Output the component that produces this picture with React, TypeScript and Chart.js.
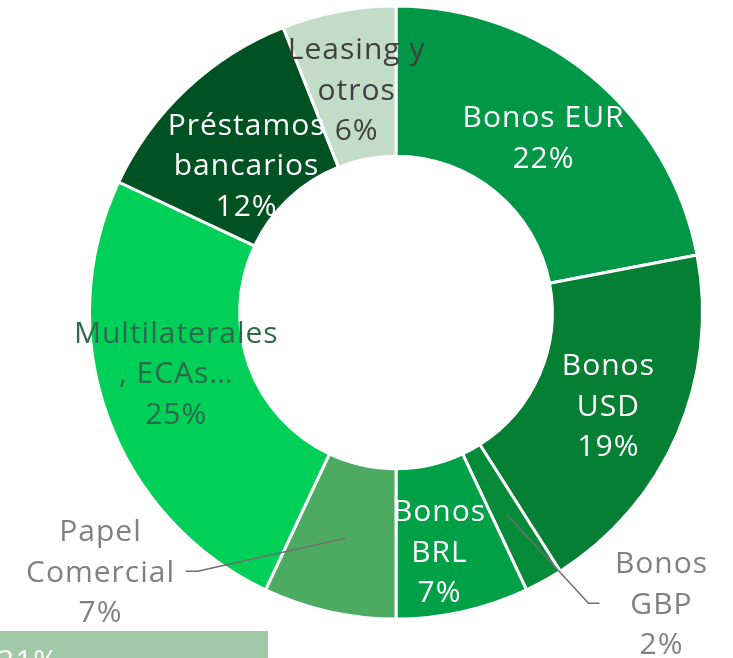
import React, { useEffect, useRef } from "react";
import { Chart, registerables } from "chart.js";

Chart.register(...registerables);

const categories = ["Bonos EUR", "Bonos USD", "Bonos GBP", "Bonos BRL", "Papel Comercial", "Multilaterales, ECAs…", "Préstamos bancarios", "Leasing y otros"];
const values = [22, 19, 2, 7, 7, 25, 12, 6];
const labelLines = [
  ["Bonos EUR", "22%"],
  ["Bonos", "USD", "19%"],
  ["Bonos", "GBP", "2%"],
  ["Bonos", "BRL", "7%"],
  ["Papel", "Comercial", "7%"],
  ["Multilaterales", ", ECAs…", "25%"],
  ["Préstamos", "bancarios", "12%"],
  ["Leasing y", "otros", "6%"],
];
const colors = ["#009846", "#047f33", "#058a38", "#00a046", "#4cab60", "#00cf58", "#005222", "#c3dcc8"];
const textColors = ["#ffffff", "#ffffff", "#808080", "#ffffff", "#808080", "#2d6a4c", "#ffffff", "#404040"];
// label offset from slice centroid
const labelOffsets = [[0, 5], [0, 3], [154, 90], [-7, 15], [-245, 35], [-2, -16], [9, 23], [4, 6]];
// leader lines: [elbow dx from label center, end dx from label center] or null
const leaders: (number[] | null)[] = [null, null, [-73, -62], null, [97, 85], null, null, null];

const extraBarLabel = "21%";

const FONT = "30px 'Open Sans'";
const LINE_H = 40.5;

const labelPlugin = {
  id: "sliceLabels",
  afterDatasetsDraw(chart: any) {
    const ctx = chart.ctx;
    const meta = chart.getDatasetMeta(0);
    ctx.save();
    ctx.font = FONT;
    try { (ctx as any).letterSpacing = "1px"; } catch (e) {}
    ctx.textAlign = "center";
    ctx.textBaseline = "middle";
    meta.data.forEach((arc: any, i: number) => {
      const p = arc.getProps(["x", "y", "startAngle", "endAngle", "innerRadius", "outerRadius"], true);
      const mid = (p.startAngle + p.endAngle) / 2;
      const r = (p.innerRadius + p.outerRadius) / 2;
      const cx = p.x + Math.cos(mid) * r;
      const cy = p.y + Math.sin(mid) * r;
      const lx = cx + labelOffsets[i][0];
      const ly = cy + labelOffsets[i][1];
      const lines = labelLines[i];
      if (leaders[i]) {
        const [elbow, end] = leaders[i] as number[];
        ctx.strokeStyle = "#707070";
        ctx.lineWidth = 1.5;
        ctx.beginPath();
        ctx.moveTo(cx, cy);
        ctx.lineTo(lx + elbow, ly - 2);
        ctx.lineTo(lx + end, ly - 2);
        ctx.stroke();
      }
      ctx.fillStyle = textColors[i];
      const top = ly - ((lines.length - 1) * LINE_H) / 2;
      lines.forEach((t, j) => ctx.fillText(t, lx, top + j * LINE_H));
    });
    // bottom bar fragment
    const x0 = 0, y0 = 631;
    ctx.fillStyle = "#a1c8a7";
    ctx.fillRect(x0, y0, 268, chart.height - y0);
    ctx.fillStyle = "#ffffff";
    ctx.textAlign = "left";
    ctx.fillText(extraBarLabel, -3, 662);
    ctx.restore();
  },
};

export default function App() {
  const ref = useRef<HTMLCanvasElement>(null);
  useEffect(() => {
    const chart = new Chart(ref.current as HTMLCanvasElement, {
      type: "doughnut",
      data: {
        labels: categories,
        datasets: [
          {
            data: values,
            backgroundColor: colors,
            borderColor: "#ffffff",
            borderWidth: 3,
            borderAlign: "center",
          },
        ],
      },
      options: {
        responsive: false,
        animation: false,
        cutout: "51%",
        layout: { padding: { left: 88, right: 29, top: 4, bottom: 37 } },
        plugins: { legend: { display: false }, tooltip: { enabled: false } },
      },
      plugins: [labelPlugin],
    });
    return () => chart.destroy();
  }, []);
  return (
    <div style={{ position: "absolute", left: 0, top: 0, width: 733, height: 658, background: "#fff" }}>
      <canvas ref={ref} width={733} height={658} style={{ width: 733, height: 658 }} />
    </div>
  );
}
